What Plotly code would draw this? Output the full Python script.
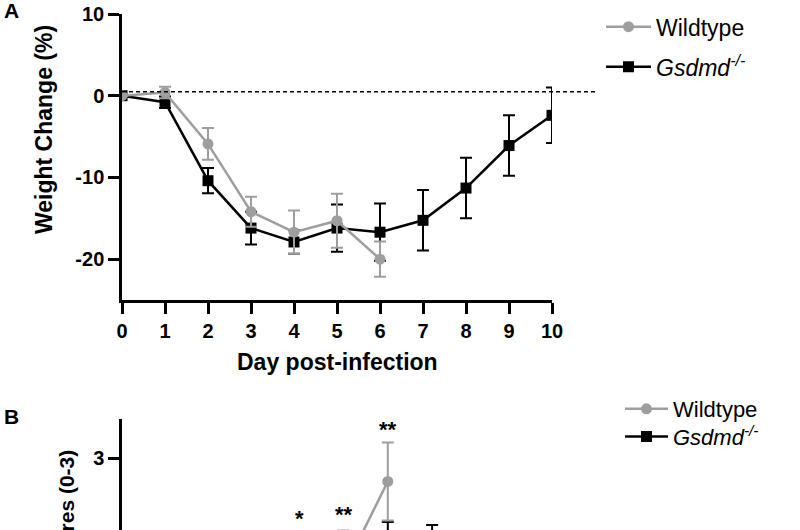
import plotly.graph_objects as go

# ---------------- Panel A data ----------------
days_a_wt = [0, 1, 2, 3, 4, 5, 6]
wt_a = [0.0, 0.4, -5.9, -14.2, -16.7, -15.3, -20.0]
wt_a_err = [0.0, 0.7, 1.95, 1.85, 2.65, 3.3, 2.15]

days_a_ko = [0, 1, 2, 3, 4, 5, 6, 7, 8, 9, 10]
ko_a = [0.0, -0.8, -10.4, -16.2, -17.9, -16.2, -16.7, -15.25, -11.3, -6.1, -2.4]
ko_a_err = [0.0, 0.7, 1.55, 2.0, 1.45, 2.9, 3.5, 3.7, 3.7, 3.7, 3.4]

baseline_a = 0.5

x_ticks_a = [0, 1, 2, 3, 4, 5, 6, 7, 8, 9, 10]
y_ticks_a = [10, 0, -10, -20]
y_ticktext_a = ["10", "0", "-10", "-20"]

# ---------------- Panel B data (only the top is visible) ----------------
days_b_wt = [0, 1, 2, 3, 4, 5, 6]
wt_b = [0.0, 0.0, 0.3, 0.9, 1.4, 1.55, 2.7]
wt_b_err = [0.0, 0.0, 0.3, 0.4, 0.6, 0.52, 0.5]

days_b_ko = [0, 1, 2, 3, 4, 5, 6, 7, 8, 9, 10]
ko_b = [0.0, 0.0, 0.1, 0.4, 0.6, 0.8, 1.6, 1.5, 1.2, 0.9, 0.6]
ko_b_err = [0.0, 0.0, 0.1, 0.3, 0.4, 0.4, 0.58, 0.64, 0.5, 0.4, 0.4]

star_days_b = [4, 5, 6]
star_labels_b = ["*", "**", "**"]
star_y_b = [2.22, 2.28, 3.36]

y_ticks_b = [3]

GRAY = "#9e9e9e"
BLACK = "#000000"
FONT = "Liberation Sans, Arial, sans-serif"

W, H = 800, 530
def px(x):
    return x / W
def py(y):
    return 1 - y / H

fig = go.Figure()

# Panel A traces (Gsdmd drawn first, wildtype on top)
fig.add_trace(go.Scatter(
    x=days_a_ko, y=ko_a, mode="lines+markers",
    name="<i>Gsdmd<sup>-/-</sup></i>",
    line=dict(color=BLACK, width=2.5),
    marker=dict(symbol="square", size=11, color=BLACK),
    error_y=dict(type="data", array=ko_a_err, color=BLACK, thickness=2, width=6),
    xaxis="x", yaxis="y", legend="legend2",
))
fig.add_trace(go.Scatter(
    x=days_a_wt, y=wt_a, mode="lines+markers",
    name="Wildtype",
    line=dict(color=GRAY, width=2.5),
    marker=dict(symbol="circle", size=11, color=GRAY),
    error_y=dict(type="data", array=wt_a_err, color=GRAY, thickness=2, width=6),
    xaxis="x", yaxis="y", legend="legend",
))

# Panel B traces
fig.add_trace(go.Scatter(
    x=days_b_ko, y=ko_b, mode="lines+markers",
    name="<i>Gsdmd<sup>-/-</sup></i>",
    line=dict(color=BLACK, width=2.5),
    marker=dict(symbol="square", size=11, color=BLACK),
    error_y=dict(type="data", array=ko_b_err, color=BLACK, thickness=2, width=6),
    xaxis="x2", yaxis="y2", legend="legend4",
))
fig.add_trace(go.Scatter(
    x=days_b_wt, y=wt_b, mode="lines+markers",
    name="Wildtype",
    line=dict(color=GRAY, width=2.5),
    marker=dict(symbol="circle", size=11, color=GRAY),
    error_y=dict(type="data", array=wt_b_err, color=GRAY, thickness=2, width=6),
    xaxis="x2", yaxis="y2", legend="legend3",
))

axis_common = dict(
    showline=True, linecolor=BLACK, linewidth=2.5, showgrid=False, zeroline=False,
    ticks="outside", ticklen=11, tickwidth=2.5, tickcolor=BLACK, automargin=False,
    tickfont=dict(family=FONT, size=20, color=BLACK, weight="bold"),
)

def leg(x, y, size, iw):
    return dict(x=px(x), y=py(y), xanchor="left", yanchor="middle",
                font=dict(family=FONT, size=size, color=BLACK),
                itemwidth=iw, bgcolor="rgba(0,0,0,0)", borderwidth=0)

fig.update_layout(
    width=W, height=H,
    margin=dict(l=0, r=0, t=0, b=0, pad=0, autoexpand=False),
    paper_bgcolor="white", plot_bgcolor="white",
    font=dict(family=FONT, color=BLACK),
    xaxis=dict(domain=[px(122), px(552)], range=[0, 10], anchor="y",
               tickvals=x_ticks_a, **axis_common),
    yaxis=dict(domain=[py(300), py(14)], range=[-25, 10], anchor="x",
               tickvals=y_ticks_a, ticktext=y_ticktext_a, **axis_common),
    xaxis2=dict(domain=[px(122), px(565)], range=[0, 10], anchor="y2", automargin=False,
                showline=False, showticklabels=False, ticks="", showgrid=False, zeroline=False),
    yaxis2=dict(domain=[0, py(419)], range=[2.077, 3.5], anchor="x2",
                tickvals=y_ticks_b, **axis_common),
    legend=leg(601, 26.7, 23, 45),
    legend2=leg(601, 66.7, 23, 45),
    legend3=leg(620, 409, 22, 43),
    legend4=leg(620, 436.7, 22, 43),
    showlegend=True,
)

# dashed baseline in panel A
fig.add_shape(type="line", xref="paper", yref="y",
              x0=px(122), x1=px(598), y0=baseline_a, y1=baseline_a,
              line=dict(color=BLACK, width=1.5, dash="4px,3px"))

annotations = [
    dict(text="A", x=px(2), y=py(11), xref="paper", yref="paper", xanchor="left", yanchor="middle",
         showarrow=False, font=dict(family=FONT, size=21, color=BLACK, weight="bold")),
    dict(text="B", x=px(2), y=py(416), xref="paper", yref="paper", xanchor="left", yanchor="middle",
         showarrow=False, font=dict(family=FONT, size=21, color=BLACK, weight="bold")),
    dict(text="Weight Change (%)", x=px(44), y=py(130), xref="paper", yref="paper",
         xanchor="center", yanchor="middle", textangle=-90, showarrow=False,
         font=dict(family=FONT, size=23, color=BLACK, weight="bold")),
    dict(text="Day post-infection", x=5, y=py(362), xref="x", yref="paper",
         xanchor="center", yanchor="middle", showarrow=False,
         font=dict(family=FONT, size=23, color=BLACK, weight="bold")),
    dict(text="Clinical Scores (0-3)", x=px(66), y=py(448), xref="paper", yref="paper",
         xanchor="center", yanchor="top", textangle=-90, showarrow=False,
         font=dict(family=FONT, size=21, color=BLACK, weight="bold")),
]
for d, lab, yv in zip(star_days_b, star_labels_b, star_y_b):
    annotations.append(dict(text=lab, x=d, y=yv, xref="x2", yref="y2",
                            xanchor="center", yanchor="middle", showarrow=False,
                            font=dict(family=FONT, size=22, color=BLACK, weight="bold")))
fig.update_layout(annotations=annotations)

fig.write_html("out.html", config={"displayModeBar": False},
               post_script="document.body.style.margin='0px';")
